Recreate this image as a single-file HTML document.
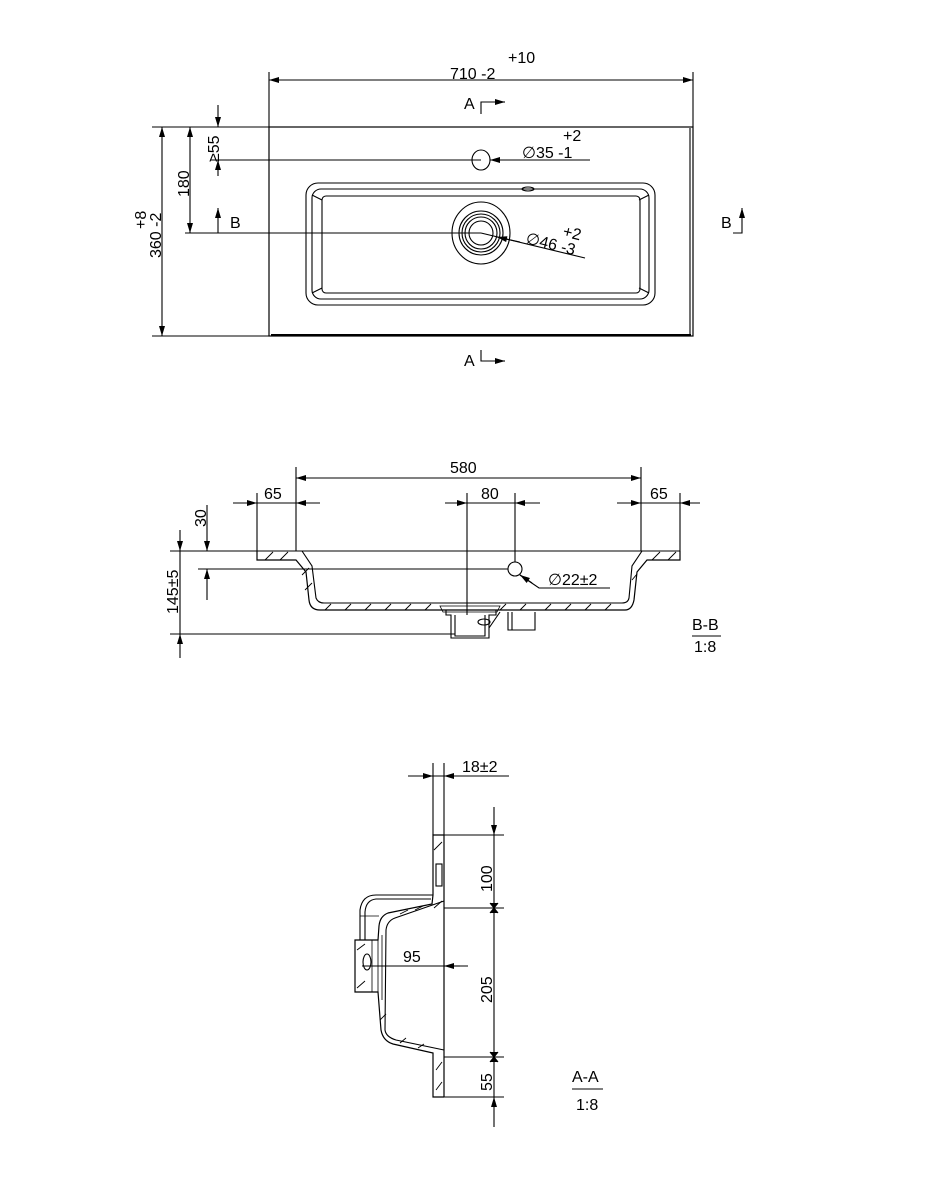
<!DOCTYPE html>
<html><head><meta charset="utf-8"><style>html,body{margin:0;padding:0;background:#fff}svg{display:block}</style></head><body>
<svg width="926" height="1200" viewBox="0 0 926 1200" xmlns="http://www.w3.org/2000/svg" font-family="Liberation Sans, sans-serif" font-size="16" fill="none" stroke="#000" stroke-width="1.1">
<defs>
<marker id="a" viewBox="0 0 10 6" refX="10" refY="3" markerWidth="12" markerHeight="6" orient="auto-start-reverse" markerUnits="userSpaceOnUse"><path d="M0,0L10,3L0,6z" fill="#000" stroke="none"/></marker>
</defs>
<!-- TOP VIEW -->
<rect x="269" y="127" width="424" height="209" stroke-width="1.2"/>
<line x1="271" y1="335" x2="691" y2="335" stroke-width="2"/>
<line x1="690" y1="128" x2="690" y2="334"/>
<line x1="269" y1="72" x2="269" y2="127"/><line x1="693" y1="72" x2="693" y2="127"/>
<line x1="269" y1="80" x2="693" y2="80" marker-start="url(#a)" marker-end="url(#a)"/>
<g fill="#000" stroke="none"><text x="508" y="63">+10</text><text x="450" y="79">710 -2</text></g>
<g fill="#000" stroke="none"><text x="464" y="109">A</text><text x="464" y="366">A</text><text x="230" y="228">B</text><text x="721" y="228">B</text></g>
<path d="M481,114V102H495"/><path d="M495,102L505,102" marker-end="url(#a)"/>
<path d="M481,350V361H495"/><path d="M495,361L505,361" marker-end="url(#a)"/>
<path d="M218,233V219" /><line x1="218" y1="219" x2="218" y2="208" marker-end="url(#a)"/>
<path d="M733,233H742V219"/><line x1="742" y1="219" x2="742" y2="208" marker-end="url(#a)"/>
<ellipse cx="481" cy="160" rx="9" ry="10"/>
<line x1="590" y1="160" x2="490" y2="160" marker-end="url(#a)"/>
<g fill="#000" stroke="none"><text x="563" y="141">+2</text><text x="522" y="158">∅35 -1</text></g>
<rect x="306" y="183" width="349" height="122" rx="12"/>
<rect x="312" y="189" width="337" height="110" rx="9"/>
<rect x="322" y="196" width="318" height="97" rx="4"/>
<path d="M312,195L322,200M649,195L639,200M312,293L322,288M649,293L639,288"/>
<ellipse cx="528" cy="189" rx="6" ry="2"/>
<ellipse cx="481" cy="233" rx="29" ry="31"/>
<circle cx="481" cy="233" r="22"/><circle cx="481" cy="233" r="19"/><circle cx="481" cy="233" r="16"/><circle cx="481" cy="233" r="12"/>
<line x1="585" y1="258" x2="481" y2="233"/><line x1="520" y1="242" x2="497" y2="237" marker-end="url(#a)"/>
<g fill="#000" stroke="none"><text x="562" y="236" transform="rotate(14 562 236)">+2</text><text x="525" y="243" transform="rotate(14 525 243)">∅46 -3</text></g>
<line x1="152" y1="127" x2="269" y2="127"/><line x1="152" y1="336" x2="269" y2="336"/>
<line x1="162" y1="127" x2="162" y2="336" marker-start="url(#a)" marker-end="url(#a)"/>
<line x1="185" y1="233" x2="481" y2="233"/>
<line x1="190" y1="127" x2="190" y2="233" marker-start="url(#a)" marker-end="url(#a)"/>
<line x1="210" y1="160" x2="481" y2="160"/>
<line x1="218" y1="105" x2="218" y2="127" marker-end="url(#a)"/>
<line x1="218" y1="176" x2="218" y2="160" marker-end="url(#a)"/>
<g fill="#000" stroke="none">
<text transform="translate(146,229) rotate(-90)">+8</text>
<text transform="translate(161,258) rotate(-90)">360 -2</text>
<text transform="translate(189,197) rotate(-90)">180</text>
<text transform="translate(219,162) rotate(-90)">≥55</text>
</g>
<!-- SECTION B-B -->
<line x1="170" y1="551" x2="680" y2="551"/>
<path d="M257,551V560H296L306,572L309,600Q310,610 320,610H625Q632,610 634,600L637,572L647,560H680V551" stroke-width="1.2"/>
<path d="M302,551L312,566L316,598Q318,603 324,603H622Q628,603 629,598L632,566L642,551"/>
<g stroke-width="0.9"><path d="M265,560L273,552M280,560L288,552M302,575L309,568M305,590L312,583M325,610L331,604M345,610L351,604M365,610L371,604M385,610L391,604M405,610L411,604M425,610L431,604M500,610L506,604M520,610L526,604M545,610L551,604M565,610L571,604M585,610L591,604M605,610L611,604M632,580L637,574M652,560L660,552M668,560L676,552"/></g>
<path d="M446,610V615H451V638H489V615H496V610"/><path d="M455,615V636H485V615"/>
<path d="M440,606H500L497,612H443Z" stroke-width="0.8"/>
<ellipse cx="484" cy="622" rx="6" ry="3"/>
<path d="M489,628L500,612"/>
<path d="M508,612V630H535V612M512,612V630"/>
<line x1="296" y1="467" x2="296" y2="551"/><line x1="641" y1="467" x2="641" y2="551"/>
<line x1="296" y1="478" x2="641" y2="478" marker-start="url(#a)" marker-end="url(#a)"/>
<line x1="257" y1="493" x2="257" y2="551"/><line x1="680" y1="493" x2="680" y2="551"/>
<line x1="233" y1="503" x2="257" y2="503" marker-end="url(#a)"/><line x1="320" y1="503" x2="296" y2="503" marker-end="url(#a)"/><line x1="257" y1="503" x2="296" y2="503"/>
<line x1="617" y1="503" x2="641" y2="503" marker-end="url(#a)"/><line x1="700" y1="503" x2="680" y2="503" marker-end="url(#a)"/><line x1="641" y1="503" x2="680" y2="503"/>
<line x1="467" y1="493" x2="467" y2="615"/><line x1="515" y1="493" x2="515" y2="562"/>
<line x1="445" y1="503" x2="467" y2="503" marker-end="url(#a)"/><line x1="540" y1="503" x2="515" y2="503" marker-end="url(#a)"/><line x1="467" y1="503" x2="515" y2="503"/>
<circle cx="515" cy="569" r="7"/>
<line x1="198" y1="569" x2="508" y2="569"/>
<path d="M610,588H539L520,575"/><line x1="532" y1="583" x2="520" y2="575" marker-end="url(#a)"/>
<line x1="207" y1="505" x2="207" y2="551" marker-end="url(#a)"/><line x1="207" y1="600" x2="207" y2="569" marker-end="url(#a)"/>
<line x1="170" y1="634" x2="455" y2="634"/>
<line x1="180" y1="530" x2="180" y2="551" marker-end="url(#a)"/><line x1="180" y1="551" x2="180" y2="634"/><line x1="180" y1="658" x2="180" y2="634" marker-end="url(#a)"/>
<g fill="#000" stroke="none">
<text x="450" y="473">580</text><text x="264" y="499">65</text><text x="650" y="499">65</text><text x="481" y="499">80</text>
<text x="548" y="585">∅22±2</text>
<text transform="translate(206,527) rotate(-90)">30</text>
<text transform="translate(178,614) rotate(-90)">145±5</text>
<text x="692" y="630">B-B</text><text x="694" y="652">1:8</text>
</g>
<line x1="692" y1="636" x2="721" y2="636"/>
<!-- SECTION A-A -->
<line x1="444" y1="835" x2="444" y2="1097" stroke-width="1.2"/>
<path d="M444,835H433V895L432,904L388,913Q380,916 379,926L378,940H355V992H378L381,1030Q383,1041 393,1044L433,1053V1097H444" stroke-width="1.2"/>
<path d="M444,901L395,918Q387,921 386,930L385,1030Q386,1037 396,1040L444,1050"/>
<path d="M433,895H376Q362,895 360,910V940"/>
<path d="M431,899H376Q366,900 365,912V940"/>
<path d="M360,916H379" stroke-width="0.8"/>
<rect x="436" y="864" width="6" height="22"/>
<ellipse cx="367" cy="962" rx="4" ry="8"/>
<path d="M378,940V992M372,940V992M382,935V1000" stroke-width="0.8"/>
<g stroke-width="0.9"><path d="M434,850L442,842M434,908L442,901M400,914L408,910M415,910L423,906M436,1070L442,1062M436,1090L442,1082M400,1043L406,1038M418,1048L424,1044M380,1020L386,1014M357,950L365,944M357,988L365,981"/></g>
<line x1="433" y1="763" x2="433" y2="835"/><line x1="444" y1="763" x2="444" y2="835"/>
<line x1="408" y1="776" x2="433" y2="776" marker-end="url(#a)"/><line x1="470" y1="776" x2="444" y2="776" marker-end="url(#a)"/><line x1="433" y1="776" x2="509" y2="776"/>
<line x1="444" y1="835" x2="504" y2="835"/><line x1="444" y1="908" x2="504" y2="908"/><line x1="444" y1="1057" x2="504" y2="1057"/><line x1="444" y1="1097" x2="504" y2="1097"/>
<line x1="494" y1="807" x2="494" y2="835" marker-end="url(#a)"/><line x1="494" y1="835" x2="494" y2="1097"/><line x1="494" y1="1127" x2="494" y2="1097" marker-end="url(#a)"/>
<path d="M490,903L494,908L498,903M490,913L494,908L498,913M490,1052L494,1057L498,1052M490,1062L494,1057L498,1062" fill="#000"/>
<line x1="362" y1="966" x2="468" y2="966"/><line x1="460" y1="966" x2="444" y2="966" marker-end="url(#a)"/>
<g fill="#000" stroke="none">
<text x="462" y="772">18±2</text>
<text x="403" y="962">95</text>
<text transform="translate(492,892) rotate(-90)">100</text>
<text transform="translate(492,1003) rotate(-90)">205</text>
<text transform="translate(492,1091) rotate(-90)">55</text>
<text x="572" y="1082">A-A</text><text x="576" y="1110">1:8</text>
</g>
<line x1="572" y1="1089" x2="603" y2="1089"/>
</svg>
</body></html>
